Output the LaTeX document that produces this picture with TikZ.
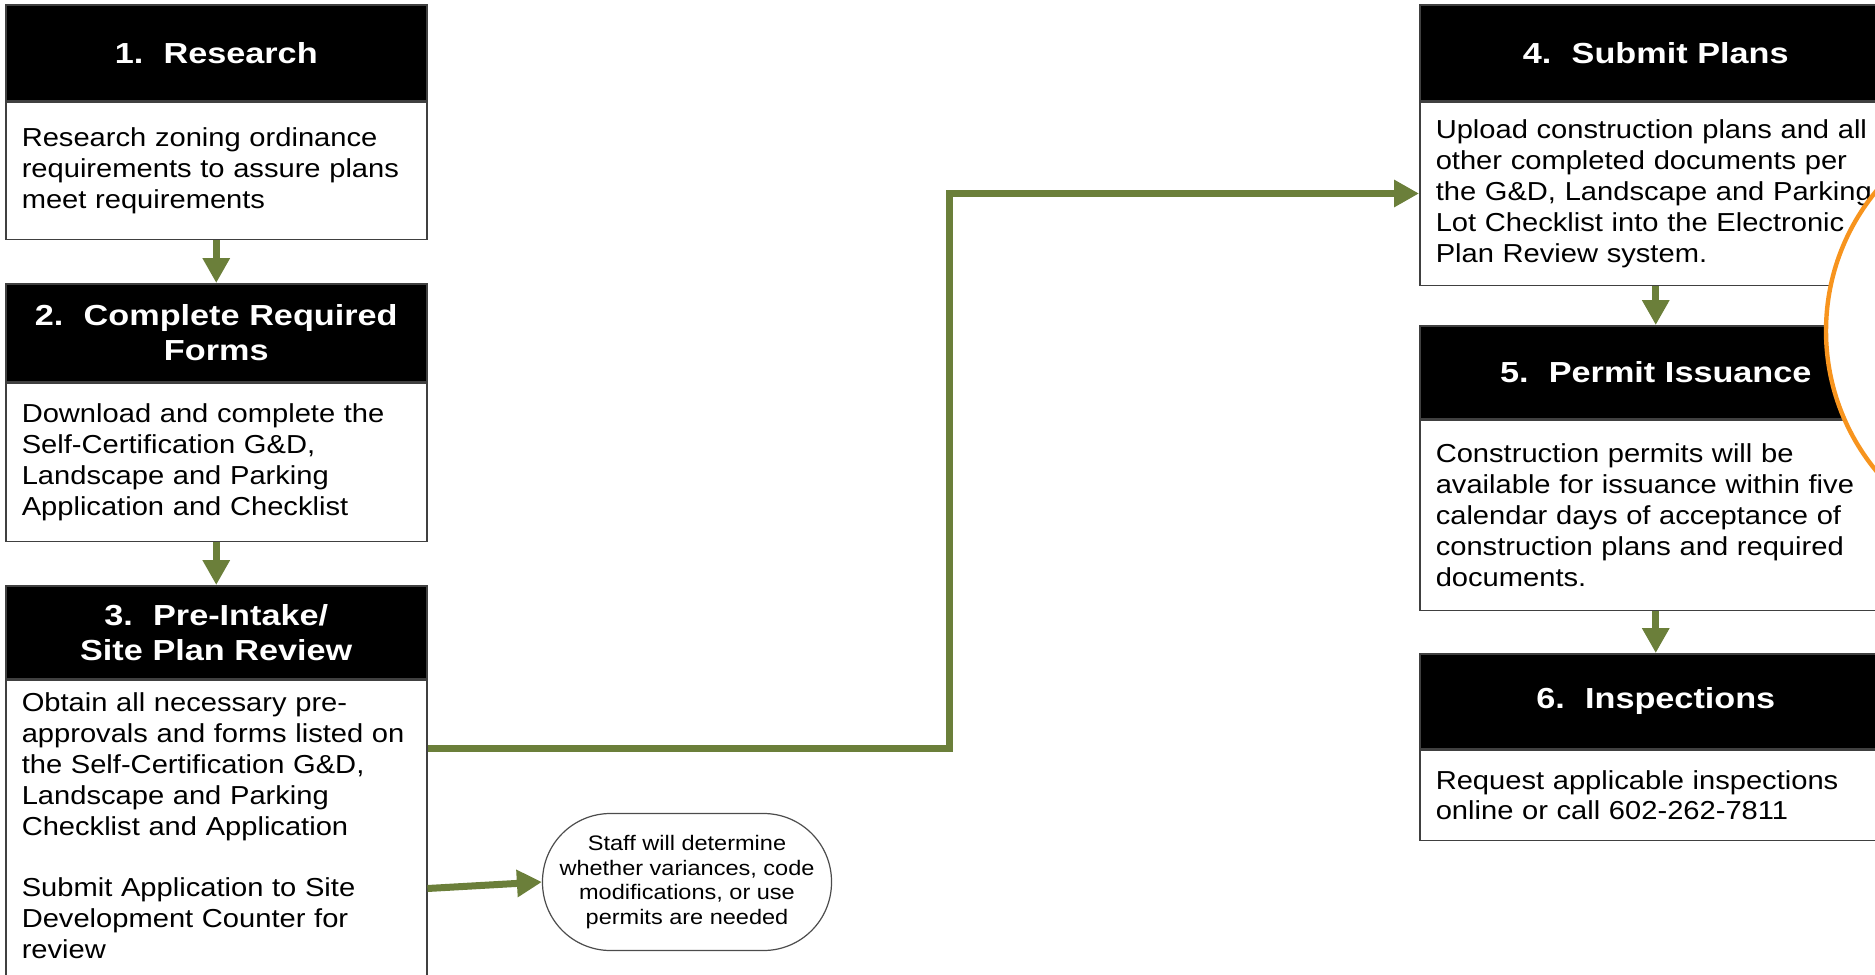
\documentclass[tikz,border=0pt]{standalone}
\usepackage{fontspec}
\setmainfont{Liberation Sans}
\newfontfamily\bodyfont[FakeStretch=1.12]{Liberation Sans}
\newfontfamily\headfont[FakeStretch=1.18]{Liberation Sans}
\usetikzlibrary{arrows.meta,positioning,calc}
\definecolor{flow}{RGB}{107,127,58}
\definecolor{ring}{RGB}{247,148,30}
\newcommand{\stepno}[1]{#1.\hspace{0.7em}}

\begin{document}
\begin{tikzpicture}[
  x=0.5pt,y=-0.5pt,
  node distance=0pt,
  head/.style={draw=black!75,line width=0.75pt,fill=black,text=white,align=center,font=\headfont\bfseries\fontsize{14.5}{17.5}\selectfont,inner sep=0pt,anchor=north west,minimum height=48pt},
  lhead/.style={head,text width=210.5pt},
  rhead/.style={head,text width=236pt},
  body/.style={draw=black!75,line width=0.75pt,fill=white,align=left,inner xsep=8pt,inner ysep=0pt,font=\bodyfont\fontsize{13}{15.4}\selectfont},
  lbody/.style={body,text width=194.5pt},
  rbody/.style={body,text width=220pt},
  note/.style={draw=black!70,line width=0.6pt,rounded corners=34pt,minimum width=144.5pt,minimum height=68.5pt,align=center,font=\bodyfont\fontsize{10.5}{12.3}\selectfont,inner sep=0pt},
  ar/.style={draw=flow,line width=3.5pt,-{Triangle[length=12.5pt,width=13pt]}}
]
\useasboundingbox (0,0) rectangle (1875,975);
\clip (0,0) rectangle (1875,975);
% left column
\node[lhead] (h1) at (5,4) {\stepno{1}Research};
\node[lbody,below=of h1,minimum height=68.5pt] (b1) {Research zoning ordinance\\requirements to assure plans\\meet requirements};
\node[lhead,minimum height=49pt] (h2) at (5,283) {\stepno{2}Complete Required\\Forms};
\node[lbody,below=of h2,minimum height=79pt] (b2) {Download and complete the\\Self-Certification G\&D,\\Landscape and Parking\\Application and Checklist};
\node[lhead,minimum height=46.5pt] (h3) at (5,585) {\stepno{3}Pre-Intake/\\Site Plan Review};
\node[lbody,below=of h3,inner ysep=6.4pt] (b3) {Obtain all necessary pre-\\approvals and forms listed on\\the Self-Certification G\&D,\\Landscape and Parking\\Checklist and Application\\[\baselineskip]Submit Application to Site\\Development Counter for\\review\\\rule{0pt}{40pt}};
\node[note] (staff) at (687,882) {Staff will determine\\whether variances, code\\modifications, or use\\permits are needed};
% right column
\node[rhead] (h4) at (1419,4) {\stepno{4}Submit Plans};
\node[rbody,below=of h4,minimum height=91.5pt] (b4) {Upload construction plans and all\\other completed documents per\\the G\&D, Landscape and Parking\\Lot Checklist into the Electronic\\Plan Review system.};
\node[rhead,minimum height=46.5pt] (h5) at (1419,325) {\stepno{5}Permit Issuance};
\node[rbody,below=of h5,minimum height=95pt] (b5) {Construction permits will be\\available for issuance within five\\calendar days of acceptance of\\construction plans and required\\documents.};
\node[rhead,minimum height=47.5pt] (h6) at (1419,653) {\stepno{6}Inspections};
\node[rbody,below=of h6,minimum height=45pt] (b6) {Request applicable inspections\\online or call 602-262-7811};
% connectors
\draw[ar] (b1) -- (h2);
\draw[ar] (b2) -- (h3);
\draw[ar] (b4) -- (h5);
\draw[ar] (b5) -- (h6);
\coordinate (out3) at ($(b3.north east)+(0,69)$);
\coordinate (in4) at ($(b4.north west)+(0,92)$);
\coordinate (turn) at (949,0);
\draw[ar] (out3) -- (out3 -| turn) |- (in4);
\coordinate (out3b) at ($(b3.north east)+(0,209)$);
\draw[ar] (out3b) -- (staff.west);
% ring at the right edge
\draw[ring,line width=2.2pt,fill=white] (2046,331) circle[radius=110pt];
\end{tikzpicture}
\end{document}
